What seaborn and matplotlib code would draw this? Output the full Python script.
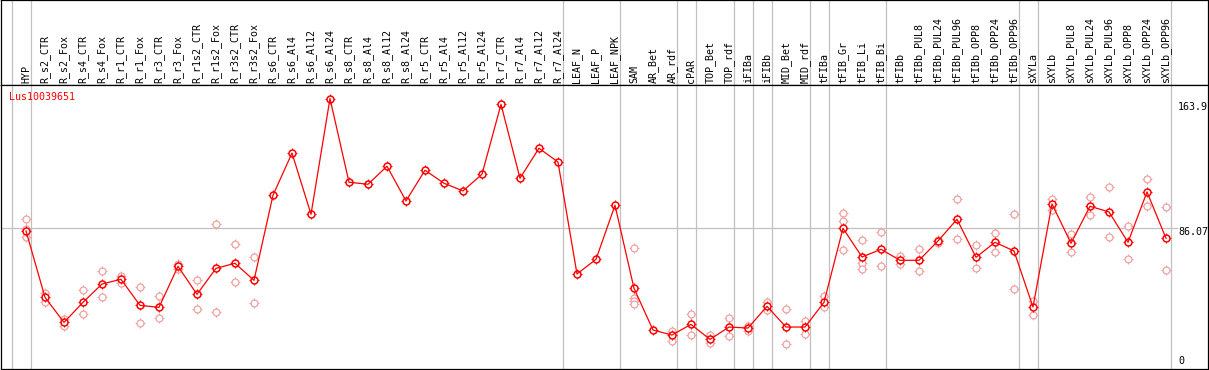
import matplotlib
matplotlib.use("Agg")
import matplotlib.pyplot as plt
import seaborn as sns
import pandas as pd
import numpy as np

# Data
gene = "Lus10039651"

categories = [
    "HYP", "R_s2_CTR", "R_s2_Fox", "R_s4_CTR", "R_s4_Fox", "R_r1_CTR", "R_r1_Fox",
    "R_r3_CTR", "R_r3_Fox", "R_r1s2_CTR", "R_r1s2_Fox", "R_r3s2_CTR", "R_r3s2_Fox",
    "R_s6_CTR", "R_s6_Al4", "R_s6_Al12", "R_s6_Al24", "R_s8_CTR", "R_s8_Al4",
    "R_s8_Al12", "R_s8_Al24", "R_r5_CTR", "R_r5_Al4", "R_r5_Al12", "R_r5_Al24",
    "R_r7_CTR", "R_r7_Al4", "R_r7_Al12", "R_r7_Al24", "LEAF_N", "LEAF_P", "LEAF_NPK",
    "SAM", "AR_Bet", "AR_rdf", "cPAR", "TOP_Bet", "TOP_rdf", "iFIBa", "iFIBb",
    "MID_Bet", "MID_rdf", "tFIBa", "tFIB_Gr", "tFIB_Li", "tFIB_Bi", "tFIBb",
    "tFIBb_PUL8", "tFIBb_PUL24", "tFIBb_PUL96", "tFIBb_OPP8", "tFIBb_OPP24",
    "tFIBb_OPP96", "sXYLa", "sXYLb", "sXYLb_PUL8", "sXYLb_PUL24", "sXYLb_PUL96",
    "sXYLb_OPP8", "sXYLb_OPP24", "sXYLb_OPP96",
]

means = [
    84.5, 44.7, 29.7, 41.7, 52.7, 55.5, 39.9, 38.7, 63.3, 46.5, 62.1, 65.1, 54.9,
    105.9, 131.2, 94.5, 163.9, 113.7, 112.5, 123.3, 102.5, 120.9, 113.1, 108.5, 118.5,
    160.4, 116.1, 134.1, 125.8, 58.7, 67.5, 99.9,
    50.1, 25.1, 22.1, 28.5, 19.5, 26.9, 26.3, 39.3, 26.9, 26.9,
    41.7, 86.1, 68.9, 73.5, 66.9, 66.9, 78.5, 91.5, 68.7, 77.7, 72.5,
    38.9, 100.7, 77.1, 99.3, 95.9, 77.7, 107.9, 80.1,
]

replicates = [
    [91.5, 85.7, 80.7], [47.5, 42.1], [31.7, 27.7], [49.1, 34.5], [60.3, 44.7],
    [57.7, 53.5], [50.7, 29.1], [45.5, 32.1], [64.7, 61.7], [54.9, 37.5],
    [88.5, 35.7], [76.5, 53.7], [68.9, 41.1],
    [], [], [], [], [], [], [], [], [], [], [], [], [], [], [], [], [], [], [],
    [74.3, 44.1, 42.7, 40.7], [], [24.7, 18.7], [34.7, 22.3], [22.1, 17.5],
    [32.3, 21.3], [27.7, 24.7], [41.7, 37.1], [37.7, 16.5], [30.5, 22.5],
    [45.5, 39.1], [95.1, 90.5, 72.9], [78.9, 65.5, 61.5], [83.7, 63.3],
    [69.7, 64.5], [73.7, 60.3], [77.1, 79.1], [103.7, 79.5], [76.1, 62.1],
    [83.3, 72.1], [94.5, 49.7], [42.7, 33.9], [103.7, 96.9], [82.9, 71.7],
    [104.9, 93.9], [110.9, 80.9], [87.3, 67.5], [115.6, 99.3], [98.7, 61.1],
]

# group separators: drawn right after these category indices
group_ends = [-1, 0, 28, 31, 34, 35, 37, 38, 39, 41, 42, 45, 52, 53, 60]

y_max = 163.9
y_mid = 86.07

mean_df = pd.DataFrame({"idx": np.arange(len(categories)), "value": means})
rep_df = pd.DataFrame(
    [(i, v) for i, vals in enumerate(replicates) for v in vals],
    columns=["idx", "value"],
)

# Figure layout (pixel based, 100 dpi)
W, H = 1209, 370
header_h = 85
fig = plt.figure(figsize=(W / 100, H / 100), dpi=100)
font = {"family": "DejaVu Sans Mono", "size": 7.2}

ax_head = fig.add_axes([1 / W, 1 - header_h / H, 1207 / W, header_h / H])
ax = fig.add_axes([1 / W, 1 / H, 1207 / W, (header_h + 199) / H])

xlim = ((1 - 26) / 19, (1208 - 26) / 19)
for a in (ax_head, ax):
    a.set_xlim(*xlim)
    a.set_xticks([])
    a.set_yticks([])
    for s in a.spines.values():
        s.set_color("black")
        s.set_linewidth(0.9)
    for g in group_ends:
        a.axvline(g + 0.237, color="#c0c0c0", lw=0.9, zorder=0)

# header with rotated sample names
ax_head.set_ylim(header_h, 0)
for i, name in enumerate(categories):
    ax_head.text(i, header_h - 2, name, rotation=90, ha="center", va="bottom",
                 color="black", **font)

# main plot
ax.set_ylim(1.74, 172.0)
ax.axhline(y_mid, xmax=1176 / 1207, color="#c0c0c0", lw=0.9, zorder=0)

red = "#ff0000"
pink = "#f0a0a0"

# replicates
ax.plot(rep_df["idx"], rep_df["value"], ls="none", marker="+", ms=6.6,
        mew=0.7, color=pink, zorder=1)
ax.plot(rep_df["idx"], rep_df["value"], ls="none", marker="o", ms=5.0,
        mew=0.9, mfc="white", mec=pink, zorder=1.5)

# mean values
ax.plot(mean_df["idx"], mean_df["value"], ls="none", marker="+", ms=6.6,
        mew=0.7, color=red, zorder=2)
ax.plot(mean_df["idx"], mean_df["value"], ls="none", marker="o", ms=5.0,
        mew=1.1, mfc="white", mec=red, zorder=3)
sns.lineplot(data=mean_df, x="idx", y="value", color=red, lw=0.9, ax=ax,
             zorder=4)
ax.set_xlabel("")
ax.set_ylabel("")

ax.annotate(gene, xy=(0, 1), xycoords="axes fraction", xytext=(8, -12),
            textcoords="offset pixels", va="center", ha="left", color=red,
            **font)

# value labels on the right
lab_x = (1178 - 26) / 19
ax.annotate(f"{y_max}", xy=(lab_x, y_max), xytext=(0, -8),
            textcoords="offset pixels", va="center", ha="left", **font)
ax.annotate(f"{y_mid}", xy=(lab_x, y_mid), xytext=(0, -4),
            textcoords="offset pixels", va="center", ha="left", **font)
ax.annotate("0", xy=(lab_x, 0), xycoords=("data", "axes fraction"),
            xytext=(0, 8), textcoords="offset pixels", va="center", ha="left",
            **font)

fig.savefig("out.png", dpi=100)
